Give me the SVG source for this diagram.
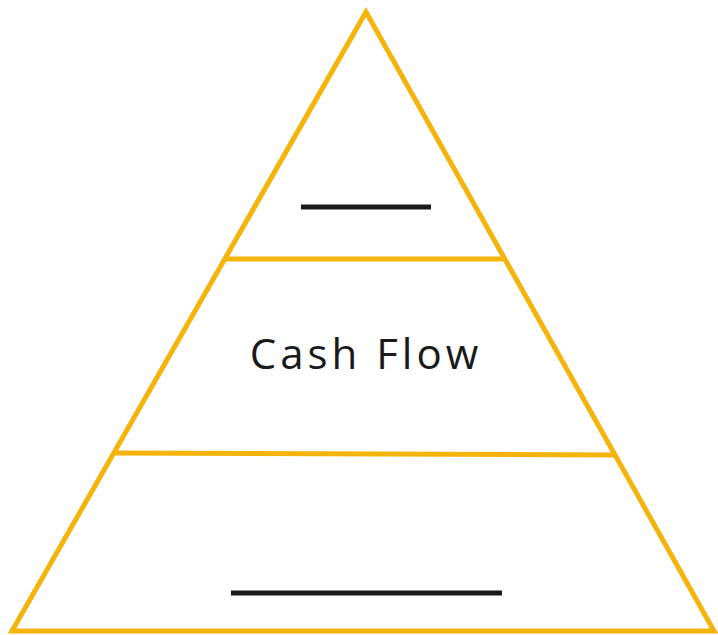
<svg xmlns="http://www.w3.org/2000/svg" width="718" height="635" viewBox="0 0 718 635">
<style>
.y{fill:none;stroke:#F5B40C;stroke-width:5;stroke-linejoin:miter}
.b{stroke:#1a1a1a;stroke-width:5}
.t{font-family:"Open Sans","Liberation Sans",sans-serif;font-size:42px;letter-spacing:4px;fill:#1a1a1a}
</style>
<rect width="718" height="635" fill="#fff"/>
<g id="pyramid">
<polygon class="y" points="366,12 12,631 714,631"/>
<line class="y" x1="226" y1="259" x2="506" y2="259"/>
<line class="y" x1="115" y1="453" x2="616" y2="455"/>
</g>
<g id="top">
<line class="b" x1="301" y1="207" x2="431" y2="207"/>
</g>
<g id="middle">
<text class="t" x="366" y="369" text-anchor="middle">Cash Flow</text>
</g>
<g id="bottom">
<line class="b" x1="231" y1="593" x2="502" y2="593"/>
</g>
</svg>
